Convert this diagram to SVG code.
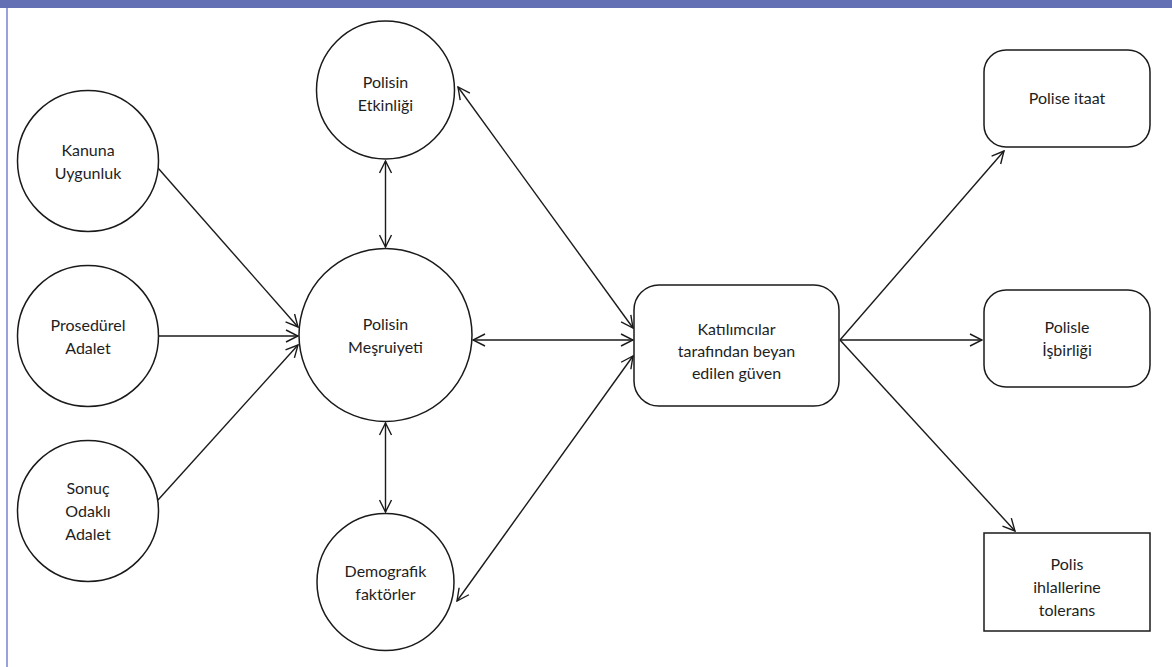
<svg xmlns="http://www.w3.org/2000/svg" width="1172" height="667" viewBox="0 0 1172 667">
<defs>
<style>
.n{fill:#fff;stroke:#1a1a1a;stroke-width:1.5}
.t{font-family:Lato,"Open Sans","Liberation Sans",sans-serif;font-size:16px;fill:#1e1e1e;text-anchor:middle}
.c{stroke:#1a1a1a;stroke-width:1.4;fill:none}
</style>
<marker id="ah" viewBox="0 0 14 14" refX="13" refY="7" markerWidth="14" markerHeight="14" markerUnits="userSpaceOnUse" orient="auto-start-reverse">
<path d="M1,1 L13,7 L1,13" fill="none" stroke="#1a1a1a" stroke-width="1.4"/>
</marker>
</defs>
<rect x="0" y="0" width="1172" height="667" fill="#fff"/>
<rect x="0" y="0" width="1172" height="8" fill="#6470b4"/>
<line x1="7" y1="8" x2="7" y2="667" stroke="#99a0dc" stroke-width="2"/>

<g id="connectors">
<line class="c" x1="158" y1="168" x2="298" y2="327" marker-end="url(#ah)"/>
<line class="c" x1="159" y1="336" x2="298" y2="336" marker-end="url(#ah)"/>
<line class="c" x1="158" y1="500" x2="298" y2="345" marker-end="url(#ah)"/>
<line class="c" x1="385.5" y1="161" x2="385.5" y2="247" marker-start="url(#ah)" marker-end="url(#ah)"/>
<line class="c" x1="385.5" y1="423" x2="385.5" y2="512" marker-start="url(#ah)" marker-end="url(#ah)"/>
<line class="c" x1="473" y1="340" x2="633" y2="340" marker-start="url(#ah)" marker-end="url(#ah)"/>
<line class="c" x1="458" y1="87" x2="633" y2="328" marker-start="url(#ah)" marker-end="url(#ah)"/>
<line class="c" x1="457" y1="601" x2="633" y2="356" marker-start="url(#ah)" marker-end="url(#ah)"/>
<line class="c" x1="840" y1="340" x2="1004" y2="151" marker-end="url(#ah)"/>
<line class="c" x1="840" y1="340" x2="982" y2="340" marker-end="url(#ah)"/>
<line class="c" x1="840" y1="340" x2="1015" y2="531" marker-end="url(#ah)"/>
</g>

<g id="kanuna">
<circle class="n" cx="88" cy="161" r="70.5"/>
<text class="t" x="88" y="156">Kanuna</text>
<text class="t" x="88" y="179">Uygunluk</text>
</g>
<g id="prosedurel">
<circle class="n" cx="88" cy="336" r="70.5"/>
<text class="t" x="88" y="331">Prosedürel</text>
<text class="t" x="88" y="354">Adalet</text>
</g>
<g id="sonuc">
<circle class="n" cx="88" cy="511" r="70.5"/>
<text class="t" x="88" y="494">Sonuç</text>
<text class="t" x="88" y="517">Odaklı</text>
<text class="t" x="88" y="540">Adalet</text>
</g>
<g id="etkinlik">
<circle class="n" cx="385.5" cy="90" r="69"/>
<text class="t" x="385.5" y="88">Polisin</text>
<text class="t" x="385.5" y="111">Etkinliği</text>
</g>
<g id="mesruiyet">
<circle class="n" cx="385.5" cy="335" r="86.5"/>
<text class="t" x="385.5" y="330">Polisin</text>
<text class="t" x="385.5" y="353">Meşruiyeti</text>
</g>
<g id="demografik">
<circle class="n" cx="385.5" cy="582" r="68.5"/>
<text class="t" x="385.5" y="577">Demografik</text>
<text class="t" x="385.5" y="600">faktörler</text>
</g>
<g id="katilimcilar">
<rect class="n" x="634" y="285" width="205" height="121" rx="25"/>
<text class="t" x="736.5" y="335">Katılımcılar</text>
<text class="t" x="736.5" y="357">tarafından beyan</text>
<text class="t" x="736.5" y="379">edilen güven</text>
</g>
<g id="itaat">
<rect class="n" x="984" y="50" width="166" height="97" rx="22"/>
<text class="t" x="1067" y="104">Polise itaat</text>
</g>
<g id="isbirligi">
<rect class="n" x="984" y="290" width="166" height="97" rx="22"/>
<text class="t" x="1067" y="333">Polisle</text>
<text class="t" x="1067" y="356">İşbirliği</text>
</g>
<g id="tolerans">
<rect class="n" x="984" y="533" width="166" height="98"/>
<text class="t" x="1067" y="570">Polis</text>
<text class="t" x="1067" y="593">ihlallerine</text>
<text class="t" x="1067" y="616">tolerans</text>
</g>
</svg>
